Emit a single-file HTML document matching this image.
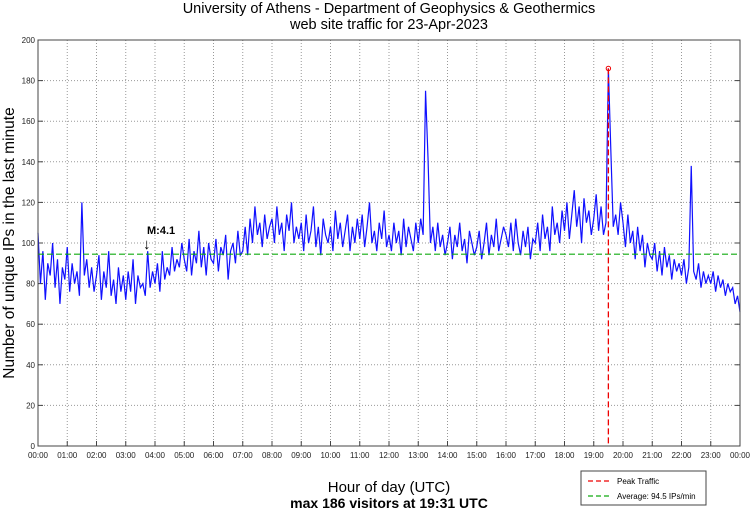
<!DOCTYPE html>
<html><head><meta charset="utf-8"><style>
body{margin:0;background:#fff;}
svg text{font-family:"Liberation Sans",sans-serif;}
</style></head><body>
<svg id="chart" width="750" height="511" viewBox="0 0 750 511" xmlns="http://www.w3.org/2000/svg">
<text x="389" y="13" text-anchor="middle" font-size="14.5">University of Athens - Department of Geophysics &amp; Geothermics</text>
<text x="389" y="29" text-anchor="middle" font-size="14.5">web site traffic for 23-Apr-2023</text>
<g id="grid"></g>
<g id="ticks"></g>
<g id="series"></g>
<rect x="38" y="40" width="702" height="406" fill="none" stroke="#444" stroke-width="1"/>
<text transform="translate(14,243) rotate(-90)" text-anchor="middle" font-size="15.5">Number of unique IPs in the last minute</text>
<text x="389" y="492" text-anchor="middle" font-size="15">Hour of day (UTC)</text>
<text x="389" y="508" text-anchor="middle" font-size="14" font-weight="bold">max 186 visitors at 19:31 UTC</text>
<text x="147" y="234" font-size="11" font-weight="bold">M:4.1</text>
<text x="143" y="249" font-size="15" font-weight="bold">↓</text>
<g>
<rect x="581" y="471" width="125" height="34" fill="#fff" stroke="#444"/>
<line x1="588" y1="481" x2="612" y2="481" stroke="#e00" stroke-dasharray="5,3" stroke-width="1.3"/>
<text x="617" y="484" font-size="8">Peak Traffic</text>
<line x1="588" y1="496" x2="612" y2="496" stroke="#1a1" stroke-dasharray="5,3" stroke-width="1.3"/>
<text x="617" y="499" font-size="8">Average: 94.5 IPs/min</text>
</g>
</svg>
<script>
const yTicks=[0,20,40,60,80,100,120,140,160,180,200];
const xTickLabels=["00:00","01:00","02:00","03:00","04:00","05:00","06:00","07:00","08:00","09:00","10:00","11:00","12:00","13:00","14:00","15:00","16:00","17:00","18:00","19:00","20:00","21:00","22:00","23:00","00:00"];
const average=94.5;
// visitors every 5 minutes
const visitors=[
105,80,96,72,90,84,100,78,92,70,88,82,
98,76,90,80,86,74,120,84,92,78,88,76,
84,94,72,86,78,96,74,82,70,88,76,84,
72,86,76,92,70,84,78,80,74,96,78,86,
80,90,76,96,82,88,84,98,86,92,88,100,
92,86,102,84,96,90,106,88,98,84,100,92,
90,102,86,98,94,104,82,96,100,90,106,94,
96,108,94,112,100,118,104,110,98,114,102,108,
112,100,118,104,110,96,114,106,120,100,108,102,
110,96,114,100,106,118,98,108,94,112,104,100,
108,96,116,102,110,98,106,114,96,108,100,112,
102,114,98,108,120,100,106,96,110,102,116,98,
104,96,110,100,106,94,112,98,108,102,96,110,
100,112,104,175,142,100,108,96,110,98,104,94,
100,108,92,104,98,110,96,102,90,106,100,94,
98,106,92,100,110,94,104,98,112,96,102,108,
104,98,110,96,112,100,94,106,98,108,92,102,
100,110,96,114,102,108,96,118,104,110,100,116,
106,120,102,114,126,108,118,100,122,110,116,104,
112,124,106,118,104,110,186,146,108,114,104,120,
110,98,114,100,106,92,108,96,104,88,100,94,
92,100,86,96,84,98,88,94,82,92,86,90,
84,92,80,88,138,86,82,90,78,86,80,84,
80,86,76,84,78,82,74,80,76,78,70,74,
66];
const L=38,R=740,T=40,B=446;
const xs=h=>L+(R-L)*h/24;
const ys=v=>B-(B-T)*v/200;
const NS="http://www.w3.org/2000/svg";
function mk(tag,attrs,parent){const e=document.createElementNS(NS,tag);for(const k in attrs)e.setAttribute(k,attrs[k]);document.getElementById(parent).appendChild(e);return e;}
yTicks.forEach(v=>{
  if(v>0&&v<200){const g=mk('line',{x1:L,x2:R,y1:ys(v),y2:ys(v),stroke:'#999','stroke-dasharray':'1,2'},'grid');
  
  }
  const t=mk('line',{x1:L,x2:L+5,y1:ys(v),y2:ys(v),stroke:'#444'},'ticks');
  
  
  const t2=mk('line',{x1:R-5,x2:R,y1:ys(v),y2:ys(v),stroke:'#444'},'ticks');
  
  
  const lb=mk('text',{x:L-3,y:ys(v)+3,'text-anchor':'end','font-size':'8',fill:'#222'},'ticks');
  lb.textContent=v;
  
  
});
xTickLabels.forEach((s,i)=>{
  const x=xs(i);
  if(i>0&&i<24){const g=mk('line',{x1:x,x2:x,y1:T,y2:B,stroke:'#999','stroke-dasharray':'1,2'},'grid');
  
  }
  const t=mk('line',{x1:x,x2:x,y1:B-5,y2:B,stroke:'#444'},'ticks');
  
  
  const lb=mk('text',{x:x,y:B+12,'text-anchor':'middle','font-size':'8',fill:'#222'},'ticks');
  lb.textContent=s;
  
  
});
const step=24/(visitors.length-1);
let d='';visitors.forEach((v,i)=>{d+=(i?'L':'M')+xs(i*step).toFixed(2)+','+ys(v).toFixed(2);});
const ln=mk('path',{d:d,fill:'none',stroke:'#1010ff','stroke-width':'1.2'},'series');


const av=mk('line',{x1:L,x2:R,y1:ys(average),y2:ys(average),stroke:'#1a1','stroke-dasharray':'6,3','stroke-width':'1.2'},'series');


let mi=0;visitors.forEach((v,i)=>{if(v>visitors[mi])mi=i;});
const px=xs(mi*step);
const pk=mk('line',{x1:px,x2:px,y1:ys(visitors[mi]),y2:B,stroke:'#e00','stroke-dasharray':'6,3','stroke-width':'1.3'},'series');


const pc=mk('circle',{cx:px,cy:ys(visitors[mi]),r:2.2,fill:'none',stroke:'#e00','stroke-width':'1'},'series');


</script>
</body></html>
